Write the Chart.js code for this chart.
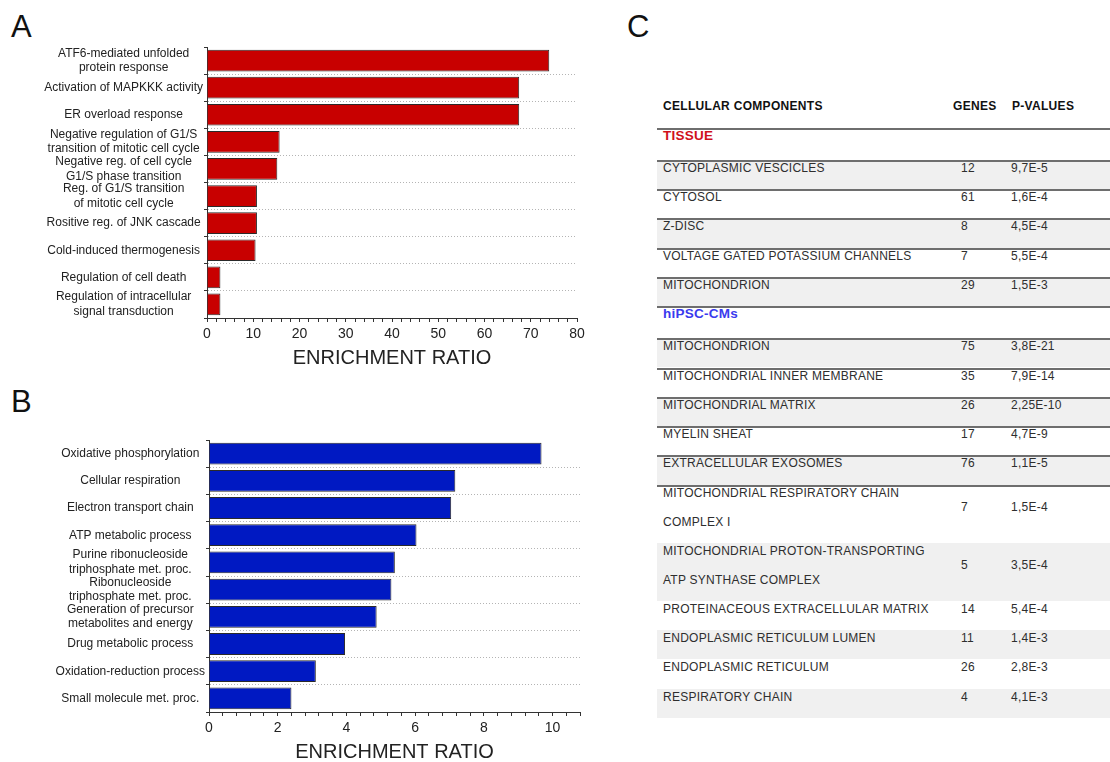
<!DOCTYPE html>
<html>
<head>
<meta charset="utf-8">
<script src="https://cdn.jsdelivr.net/npm/chart.js@4.4.1/dist/chart.umd.min.js"></script>
<style>
  body { margin: 0; width: 1110px; height: 762px; overflow: hidden; background: #fff;
         font-family: "Liberation Sans", Arial, sans-serif; position: relative; }
  .panel { position: absolute; font-size: 31px; color: #111; line-height: 1; }
  canvas { position: absolute; left: 0; }
  #tbl { position: absolute; left: 657px; top: 0; width: 453px; height: 762px; }
  .row { position: absolute; left: 0; width: 453px; box-sizing: border-box;
         border-top: 2px solid transparent; }
  .row.ruled { border-top-color: #6e6e6e; }
  .row.shade { background: #f0f0f0; }
  .cell { position: absolute; line-height: 12px; font-size: 12px; color: #2e2e2e;
          letter-spacing: 0.25px; white-space: nowrap; }
  .head { font-weight: bold; color: #111; letter-spacing: 0.3px; }
  .group { font-weight: bold; font-size: 13.5px; }
</style>
</head>
<body>

<div class="panel" style="left:11px; top:11px;">A</div>
<div class="panel" style="left:11px; top:386px;">B</div>
<div class="panel" style="left:627px; top:11px;">C</div>

<canvas id="chartA" width="600" height="335" style="top:40px"></canvas>
<canvas id="chartB" width="600" height="340" style="top:430px"></canvas>
<div id="tbl"></div>

<script>
// A - enriched processes (tissue)
let labelsA = [
    ["ATF6-mediated unfolded", "protein response"],
    "Activation of MAPKKK activity",
    "ER overload response",
    ["Negative regulation of G1/S", "transition of mitotic cell cycle"],
    ["Negative reg. of cell cycle", "G1/S phase transition"],
    ["Reg. of G1/S transition", "of mitotic cell cycle"],
    "Rositive reg. of JNK cascade",
    "Cold-induced thermogenesis",
    "Regulation of cell death",
    ["Regulation of intracellular", "signal transduction"]
];
let valuesA = [74.0, 67.5, 67.5, 15.7, 15.2, 10.8, 10.8, 10.5, 2.9, 2.9];

// B - enriched processes (hiPSC-CMs)
let labelsB = [
    "Oxidative phosphorylation",
    "Cellular respiration",
    "Electron transport chain",
    "ATP metabolic process",
    ["Purine ribonucleoside", "triphosphate met. proc."],
    ["Ribonucleoside", "triphosphate met. proc."],
    ["Generation of precursor", "metabolites and energy"],
    "Drug metabolic process",
    "Oxidation-reduction process",
    "Small molecule met. proc."
];
let valuesB = [9.68, 7.17, 7.05, 6.04, 5.41, 5.31, 4.88, 3.96, 3.11, 2.40];

// C - cellular components table
let tableHeaders = ["CELLULAR COMPONENTS", "GENES", "P-VALUES"];
let groupNames = ["TISSUE", "hiPSC-CMs"];
let tissueComponents = ["CYTOPLASMIC VESCICLES", "CYTOSOL", "Z-DISC",
    "VOLTAGE GATED POTASSIUM CHANNELS", "MITOCHONDRION"];
let tissueGenes = [12, 61, 8, 7, 29];
let tissuePValues = ["9,7E-5", "1,6E-4", "4,5E-4", "5,5E-4", "1,5E-3"];
let cmComponents = ["MITOCHONDRION", "MITOCHONDRIAL INNER MEMBRANE", "MITOCHONDRIAL MATRIX",
    "MYELIN SHEAT", "EXTRACELLULAR EXOSOMES",
    ["MITOCHONDRIAL RESPIRATORY CHAIN", "COMPLEX I"],
    ["MITOCHONDRIAL PROTON-TRANSPORTING", "ATP SYNTHASE COMPLEX"],
    "PROTEINACEOUS EXTRACELLULAR MATRIX", "ENDOPLASMIC RETICULUM LUMEN",
    "ENDOPLASMIC RETICULUM", "RESPIRATORY CHAIN"];
let cmGenes = [75, 35, 26, 17, 76, 7, 5, 14, 11, 26, 4];
let cmPValues = ["3,8E-21", "7,9E-14", "2,25E-10", "4,7E-9", "1,1E-5", "1,5E-4",
    "3,5E-4", "5,4E-4", "1,4E-3", "2,8E-3", "4,1E-3"];

const FONT = "'Liberation Sans', Arial, sans-serif";

function barChart(id, labels, values, color, max, step, labelEvery, yWidth, xHeight, pad, titlePad) {
    return new Chart(document.getElementById(id), {
        type: "bar",
        data: {
            labels: labels,
            datasets: [{
                data: values,
                backgroundColor: color,
                borderColor: "#2a2a2a",
                borderWidth: 1,
                borderSkipped: "start",
                barPercentage: 0.8,
                categoryPercentage: 1
            }]
        },
        options: {
            indexAxis: "y",
            responsive: false,
            animation: false,
            devicePixelRatio: 1,
            layout: { padding: pad },
            plugins: { legend: { display: false }, tooltip: { enabled: false } },
            scales: {
                x: {
                    min: 0,
                    max: max,
                    afterFit: s => { s.height = xHeight; },
                    grid: { drawOnChartArea: false, tickLength: 4, color: "#333" },
                    border: { color: "#333" },
                    ticks: {
                        stepSize: step,
                        autoSkip: false,
                        maxRotation: 0,
                        padding: 4,
                        color: "#222",
                        font: { family: FONT, size: 14 },
                        callback: v => Math.abs(v / labelEvery - Math.round(v / labelEvery)) < 1e-6 ? v : ""
                    },
                    title: {
                        display: true,
                        text: "ENRICHMENT RATIO",
                        color: "#222",
                        font: { family: FONT, size: 20 },
                        padding: { top: 0, bottom: titlePad }
                    }
                },
                y: {
                    // labels sit inside their categories, so no extra room above/below
                    afterFit: s => { s.width = yWidth; s.paddingTop = 0; s.paddingBottom = 0; },
                    grid: {
                        offset: true,
                        color: c => c.index === 0 ? "rgba(0,0,0,0)" : "#b4b4b4",
                        tickLength: 3,
                        tickColor: "#333"
                    },
                    border: { color: "#333", dash: [1, 2] },
                    ticks: {
                        autoSkip: false,
                        crossAlign: "center",
                        padding: 1,
                        color: "#222",
                        font: { family: FONT, size: 12, lineHeight: 1.22 }
                    }
                }
            }
        }
    });
}

barChart("chartA", labelsA, valuesA, "#c80000", 80, 2, 10, 207, 57,
    { top: 7, right: 23, bottom: 0, left: 0 }, 5);
barChart("chartB", labelsB, valuesB, "#0019c2", 10.8, 0.4, 2, 209, 58,
    { top: 10, right: 20, bottom: 0, left: 0 }, 6);

// table
let tbl = document.getElementById("tbl");

function addCell(parent, text, left, top, cls) {
    let d = document.createElement("div");
    d.className = "cell " + (cls || "");
    d.style.left = left + "px";
    d.style.top = top + "px";
    d.textContent = text;
    parent.appendChild(d);
    return d;
}

let colLeft = [6, 304, 354];
addCell(tbl, tableHeaders[0], 6, 100, "head");
addCell(tbl, tableHeaders[1], 296, 100, "head");
addCell(tbl, tableHeaders[2], 355, 100, "head");

let rows = [];
rows.push({ group: groupNames[0], color: "#d0101a" });
tissueComponents.forEach((c, i) => rows.push({ name: c, genes: tissueGenes[i], p: tissuePValues[i] }));
rows.push({ group: groupNames[1], color: "#3a3aee" });
cmComponents.forEach((c, i) => rows.push({ name: c, genes: cmGenes[i], p: cmPValues[i] }));

let RULED_ROWS = 13;
let y = 127.7;
rows.forEach((r, i) => {
    let two = Array.isArray(r.name);
    let h = r.group ? 32 : (two ? 58 : 29.3);
    let row = document.createElement("div");
    row.className = "row" + (i < RULED_ROWS ? " ruled" : "") + (i % 2 === 1 ? " shade" : "");
    row.style.top = y + "px";
    row.style.height = h + "px";
    tbl.appendChild(row);
    if (r.group) {
        let g = addCell(row, r.group, colLeft[0], 0, "group");
        g.style.color = r.color;
    } else {
        let lines = two ? r.name : [r.name];
        lines.forEach((t, k) => addCell(row, t, colLeft[0], k * 29));
        let vt = two ? 14 : 0;
        addCell(row, String(r.genes), colLeft[1], vt);
        addCell(row, r.p, colLeft[2], vt);
    }
    y += h;
});
</script>
</body>
</html>
